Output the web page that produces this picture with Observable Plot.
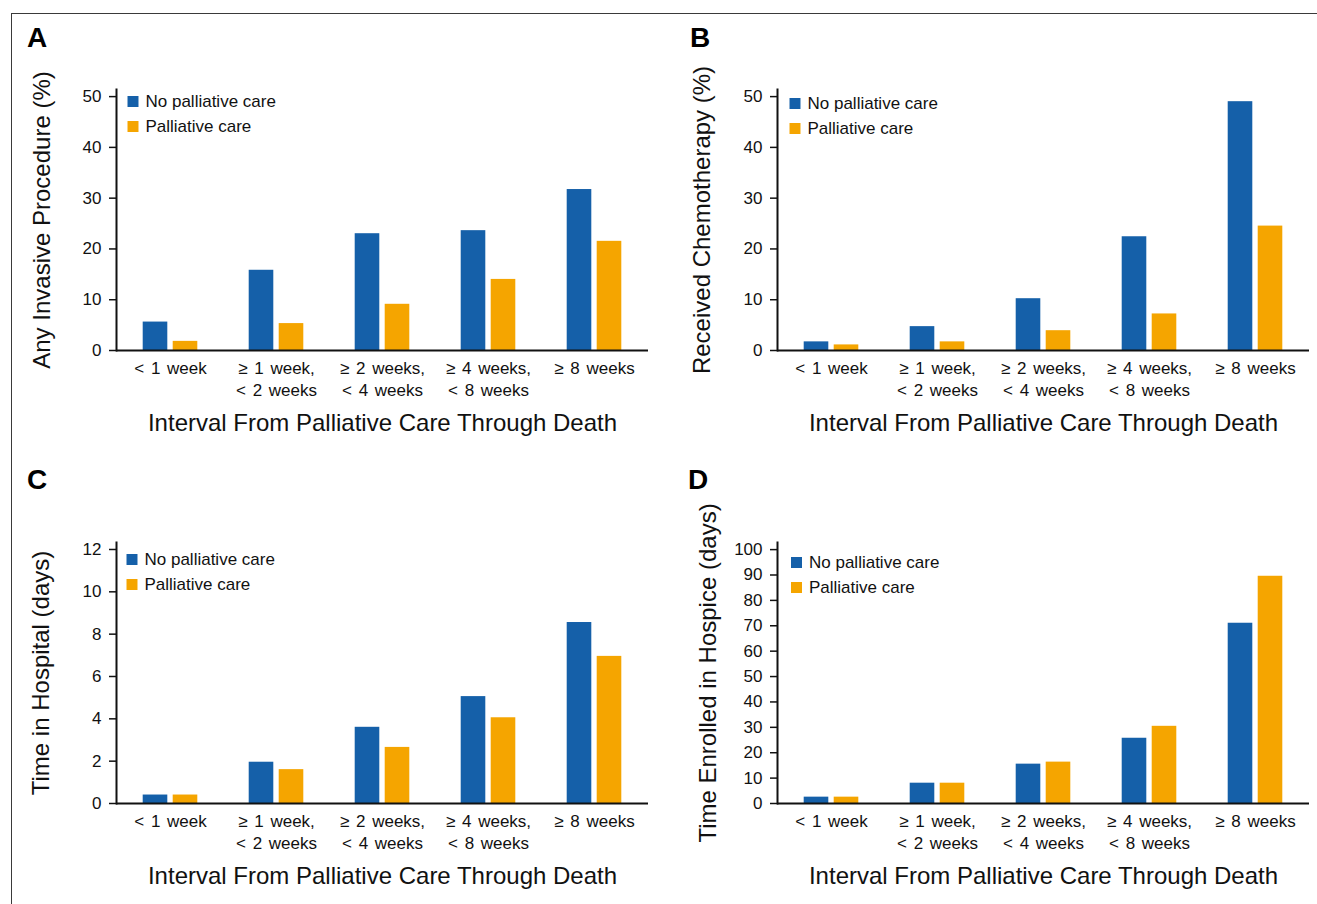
<!DOCTYPE html>
<html>
<head>
<meta charset="utf-8">
<script src="https://cdn.jsdelivr.net/npm/d3@7"></script>
<script src="https://cdn.jsdelivr.net/npm/@observablehq/plot@0.6"></script>
<style>
  body { margin: 0; background: #fff; }
  #fig { position: relative; width: 1317px; height: 904px; overflow: hidden; background: #fff;
         font-family: "Liberation Sans", Arial, Helvetica, sans-serif; }
  #border { position: absolute; left: 11px; top: 13px; right: -5px; bottom: -5px;
            border-top: 1.5px solid #3a3a3a; border-left: 1.5px solid #3a3a3a; }
  .panel { position: absolute; }
  .letter { position: absolute; font: bold 28px "Liberation Sans", Arial, sans-serif; color: #000; line-height: 1; }
  g[aria-label="x-axis tick label"] text { word-spacing: 2px; }
</style>
</head>
<body>
<div id="fig"><div id="border"></div></div>
<script>
// ---- data ----
const intervals = ["< 1 week", "≥ 1 week,\n< 2 weeks", "≥ 2 weeks,\n< 4 weeks", "≥ 4 weeks,\n< 8 weeks", "≥ 8 weeks"];
const groups = ["No palliative care", "Palliative care"];
const groupColors = ["#1560a9", "#f5a500"];
const xTitle = "Interval From Palliative Care Through Death";
const panelLetters = ["A", "B", "C", "D"];
const yTitles = ["Any Invasive Procedure (%)", "Received Chemotherapy (%)", "Time in Hospital (days)", "Time Enrolled in Hospice (days)"];

const procedureNone = [5.6, 15.8, 23.0, 23.6, 31.7];
const procedurePal  = [1.8, 5.3, 9.1, 14.0, 21.5];
const chemoNone     = [1.7, 4.7, 10.2, 22.4, 49.0];
const chemoPal      = [1.1, 1.7, 3.9, 7.2, 24.5];
const hospitalNone  = [0.4, 1.95, 3.6, 5.05, 8.55];
const hospitalPal   = [0.4, 1.6, 2.65, 4.05, 6.95];
const hospiceNone   = [2.5, 8.0, 15.5, 25.7, 71.0];
const hospicePal    = [2.5, 8.0, 16.3, 30.4, 89.5];

const ticksPercent  = [0, 10, 20, 30, 40, 50];
const ticksHospital = [0, 2, 4, 6, 8, 10, 12];
const ticksHospice  = [0, 10, 20, 30, 40, 50, 60, 70, 80, 90, 100];
const yTops = [51.4, 51.4, 12.33, 102.8];

// ---- layout ----
const W = 656, H = 450, ML = 116, MR = 8, MT = 89, MB = 100;
const panelsCfg = [
  {left: 0,   top: 0,   none: procedureNone, pal: procedurePal, ticks: ticksPercent,  legend: [16.5, 12], ydx: -74},
  {left: 661, top: 0,   none: chemoNone,     pal: chemoPal,     ticks: ticksPercent,  legend: [17.5, 14], ydx: -75},
  {left: 0,   top: 453, none: hospitalNone,  pal: hospitalPal,  ticks: ticksHospital, legend: [15.5, 17], ydx: -75},
  {left: 661, top: 453, none: hospiceNone,   pal: hospicePal,   ticks: ticksHospice,  legend: [19, 20], ydx: -69}
];
const letterPos = [[27, 24], [690, 24], [27, 466], [688, 466]];

const fig = document.getElementById("fig");

panelsCfg.forEach((cfg, p) => {
  const rows = [];
  intervals.forEach((c, i) => {
    rows.push({interval: c, group: groups[0], value: cfg.none[i]});
    rows.push({interval: c, group: groups[1], value: cfg.pal[i]});
  });
  const bw = (W - ML - MR) / intervals.length;
  const barW = 25, gap = 5;
  const outer = bw / 2 - gap / 2 - barW;
  const innerI = bw / 2 + gap / 2;

  const legendMarks = [];
  groups.forEach((g, i) => {
    legendMarks.push(Plot.dot([g], {frameAnchor: "top-left", dx: cfg.legend[0], dy: cfg.legend[1] + 25 * i,
      symbol: "square", r: 6.2, fill: groupColors[i], stroke: "none"}));
    legendMarks.push(Plot.text([g], {text: d => d, frameAnchor: "top-left", dx: cfg.legend[0] + 12.5, dy: cfg.legend[1] + 25 * i,
      textAnchor: "start", lineAnchor: "middle", fontSize: 17, fill: "#111"}));
  });

  const chart = Plot.plot({
    width: W, height: H,
    marginLeft: ML, marginRight: MR, marginTop: MT, marginBottom: MB,
    style: {fontFamily: "'Liberation Sans', Arial, Helvetica, sans-serif", fontSize: "17px", color: "#111", background: "transparent", overflow: "visible"},
    x: {domain: intervals, padding: 0},
    y: {domain: [0, yTops[p]]},
    color: {domain: groups, range: groupColors},
    marks: [
      Plot.barY(rows.filter(d => d.group === groups[0]), {x: "interval", y: "value", fill: "group", insetLeft: outer, insetRight: innerI}),
      Plot.barY(rows.filter(d => d.group === groups[1]), {x: "interval", y: "value", fill: "group", insetLeft: innerI, insetRight: outer}),
      Plot.ruleY([0], {stroke: "#111", strokeWidth: 2}),
      Plot.frame({anchor: "left", stroke: "#111", strokeWidth: 2}),
      Plot.axisY({ticks: cfg.ticks, tickSize: 7, tickPadding: 8, fontSize: 17, label: null, strokeWidth: 1.5, tickFormat: d => String(d)}),
      Plot.axisX({tickSize: 0, tickPadding: 8, fontSize: 17, lineHeight: 1.3, label: null}),
      Plot.text([xTitle], {text: d => d, frameAnchor: "bottom", dy: 73, fontSize: 24, fill: "#111", lineAnchor: "middle", textAnchor: "middle", ariaLabel: "x-title"}),
      Plot.text([yTitles[p]], {text: d => d, frameAnchor: "left", rotate: -90, dx: cfg.ydx, fontSize: 24, fill: "#111", textAnchor: "middle", lineAnchor: "middle", ariaLabel: "y-title"}),
      ...legendMarks
    ]
  });
  const div = document.createElement("div");
  div.className = "panel";
  div.style.left = cfg.left + "px";
  div.style.top = cfg.top + "px";
  div.appendChild(chart);
  fig.appendChild(div);

  const lt = document.createElement("div");
  lt.className = "letter";
  lt.textContent = panelLetters[p];
  lt.style.left = letterPos[p][0] + "px";
  lt.style.top = letterPos[p][1] + "px";
  fig.appendChild(lt);
});
</script>
</body>
</html>
